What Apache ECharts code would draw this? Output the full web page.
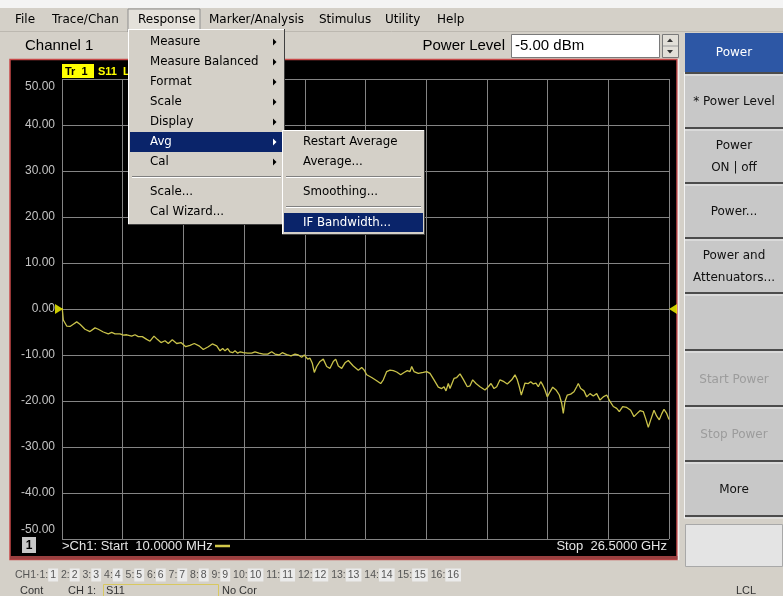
<!DOCTYPE html>
<html><head><meta charset="utf-8">
<script src="https://cdn.jsdelivr.net/npm/echarts@6/dist/echarts.min.js"></script>
<style>html,body{margin:0;padding:0;background:#d4d0c8;overflow:hidden}#c{width:783px;height:596px}</style>
</head><body><div id="c"></div>
<script>
// ---- data ----
const freqGHz = [0.01,0.057,0.205,0.349,0.493,0.642,0.786,1.004,1.222,1.441,1.585,1.803,2.021,2.170,2.314,2.532,2.676,2.825,3.043,3.187,3.331,3.506,3.698,3.842,4.016,4.161,4.322,4.497,4.641,4.815,5.008,5.195,5.400,5.588,5.776,5.981,6.169,6.387,6.562,6.754,6.898,7.016,7.116,7.234,7.334,7.452,7.553,7.670,7.784,7.915,8.107,8.282,8.426,8.600,8.788,8.980,9.155,9.299,9.474,9.618,9.810,9.998,10.172,10.316,10.465,10.578,10.727,10.827,10.928,11.015,11.120,11.264,11.408,11.556,11.700,11.844,11.949,12.063,12.211,12.355,12.499,12.717,12.936,13.084,13.198,13.302,13.520,13.739,13.913,14.027,14.175,14.319,14.464,14.612,14.787,14.931,15.075,15.193,15.267,15.367,15.555,15.773,15.922,16.066,16.241,16.428,16.577,16.677,16.764,16.865,16.939,17.114,17.232,17.376,17.520,17.695,17.812,17.930,18.074,18.249,18.467,18.611,18.729,18.860,18.978,19.122,19.296,19.440,19.633,19.777,19.877,19.964,20.052,20.139,20.213,20.357,20.462,20.576,20.693,20.794,20.899,20.986,21.086,21.187,21.305,21.423,21.567,21.711,21.816,21.885,21.959,22.060,22.208,22.352,22.470,22.540,22.645,22.789,22.907,23.051,23.195,23.343,23.487,23.631,23.780,23.924,24.068,24.216,24.330,24.478,24.653,24.827,24.971,25.089,25.233,25.377,25.499,25.596,25.701,25.845,25.963,26.076,26.181,26.282,26.399,26.5];
const s11dB = [0.15,-2.4,-3.7,-3.8,-3.3,-2.8,-3.3,-4.4,-4.9,-4.1,-4.4,-5.0,-5.4,-5.1,-5.4,-5.4,-5.7,-5.6,-5.9,-5.6,-6.0,-6.0,-6.6,-7.0,-5.9,-6.6,-7.3,-6.9,-7.5,-6.7,-7.5,-7.3,-8.2,-7.9,-7.5,-8.0,-8.8,-8.2,-7.6,-8.0,-9.1,-8.6,-9.1,-8.6,-9.3,-9.5,-9.1,-9.6,-9.3,-9.5,-9.6,-9.6,-9.3,-9.6,-9.8,-9.8,-9.3,-9.8,-10.0,-9.5,-9.9,-10.2,-9.8,-10.0,-10.5,-10.0,-10.9,-10.7,-11.8,-13.8,-12.5,-11.4,-10.9,-12.5,-12.9,-11.4,-10.9,-12.4,-12.9,-11.7,-11.2,-12.4,-13.3,-12.7,-13.3,-14.3,-14.9,-15.6,-16.2,-15.4,-13.6,-13.3,-13.4,-13.7,-14.3,-13.8,-13.4,-13.6,-12.5,-13.6,-14.0,-13.8,-13.6,-14.0,-15.4,-17.0,-17.3,-16.9,-17.8,-16.2,-17.3,-15.1,-14.9,-14.1,-15.3,-16.9,-16.7,-15.4,-16.2,-16.9,-17.6,-16.9,-16.2,-17.3,-16.9,-15.4,-15.8,-16.3,-15.4,-14.3,-15.4,-16.9,-18.7,-17.3,-16.1,-16.2,-15.8,-16.3,-16.1,-16.9,-15.8,-16.5,-17.6,-19.1,-18.0,-17.0,-17.6,-18.7,-20.5,-22.7,-20.1,-18.7,-18.5,-18.0,-16.9,-16.2,-17.3,-17.8,-19.1,-18.4,-18.9,-18.4,-19.8,-19.1,-18.7,-20.1,-21.2,-21.6,-22.3,-21.2,-21.4,-22.0,-23.4,-22.8,-22.1,-22.3,-24.1,-25.7,-24.1,-22.0,-23.3,-24.1,-22.8,-21.8,-22.7,-24.0];
const refMarkers = [[0, 0], [26.5, 0]];
const yMin = -50, yMax = 50, yStep = 10;
const xMin = 0, xMax = 26.5, xStep = 2.65;
const menuBar = ['File','Trace/Chan','Response','Marker/Analysis','Stimulus','Utility','Help'];
const responseMenu = ['Measure','Measure Balanced','Format','Scale','Display','Avg','Cal','-','Scale...','Cal Wizard...'];
const responseHasArrow = [1,1,1,1,1,1,1,0,0,0];
const avgMenu = ['Restart Average','Average...','-','Smoothing...','-','IF Bandwidth...'];
const softkeys = [['* Power Level'],['Power','ON | off'],['Power...'],['Power and','Attenuators...'],[],['Start Power'],['Stop Power'],['More']];
const softkeyEnabled = [1,1,1,1,1,0,0,1];

// ---- layout helpers ----
const g = [];
function rect(x,y,w,h,fill,stroke,z,lw){ g.push({type:'rect',z:z||0,silent:true,shape:{x:x,y:y,width:w,height:h},style:{fill:fill||null,stroke:stroke||null,lineWidth:lw||1}}); }
function line(x1,y1,x2,y2,color,lw,z){ g.push({type:'line',z:z||0,silent:true,shape:{x1:x1,y1:y1,x2:x2,y2:y2},style:{stroke:color,lineWidth:lw||1}}); }
function poly(pts,fill,z){ g.push({type:'polygon',z:z||0,silent:true,shape:{points:pts},style:{fill:fill}}); }
function text(x,y,t,o){ o=o||{}; const a=o.align||'left';
  g.push({type:'text',z:o.z||1,silent:true,x:x,y:y,style:{text:t,fill:o.fill||'#000',fontSize:o.size||12,fontFamily:o.family||'DejaVu Sans',fontWeight:o.weight||'normal',align:a,verticalAlign:'middle',textAlign:a,textVerticalAlign:'middle',rich:o.rich}}); }

// top strips
rect(0,0,783,8,'#f4f4f4',null,-10);
rect(0,8,783,23,'#d4d0c8',null,-10);
line(0,31.5,783,31.5,'#bcb8b0',1,-9);
// menu bar
const menuX = [15,52,138,209,319,385,437];
rect(128,9,72,23,'#e4e1da','#8e8e8e',-8);
menuBar.forEach((m,i)=>text(menuX[i],20,m,{size:12}));
// row 2
text(25,46,'Channel 1',{size:15,family:'Liberation Sans'});
text(505,46,'Power Level',{size:15,family:'Liberation Sans',align:'right'});
rect(511.5,34.5,148,23,'#ffffff','#7a7a7a',0);
text(515,46,'-5.00 dBm',{size:15,family:'Liberation Sans'});
rect(662.5,34.5,16,23,'#e2dfd8','#7a7a7a',0);
line(663,46,678,46,'#9a9a9a',1,1);
poly([[667,42],[673,42],[670,38.5]],'#333',2);
poly([[667,50],[673,50],[670,53.5]],'#333',2);

// chart frame
rect(10,59.5,667,500,'#000000','#c84848',-5,1.5);
rect(10,556,668,3.5,'#9a4040',null,-4);
line(678.5,59,678.5,560,'#f0eeea',1.5,-4);

// right soft panel
rect(685,33,98,39,'#2d57a5',null,0);
text(734,53,'Power',{align:'center',fill:'#ffffff',size:12});
rect(684,72,99,446,'#c8c8c8',null,-2);
const sepY = [73,128,183,238,293,350,406,461,516];
sepY.forEach(y=>{ line(684,y,783,y,'#4c4c4c',2,0); line(684,y+2,783,y+2,'#ececec',1,0); });
line(684.5,72,684.5,518,'#f2f2f2',1,0);
softkeys.forEach((k,i)=>{
  const top = sepY[i], bot = sepY[i+1], cy = (top+bot)/2+1.5;
  const col = softkeyEnabled[i] ? '#111' : '#9c9c9c';
  if (k.length===1) text(734,cy,k[0],{align:'center',fill:col,size:12});
  else if (k.length===2){ text(734,cy-11,k[0],{align:'center',fill:col,size:12}); text(734,cy+11,k[1],{align:'center',fill:col,size:12}); }
});
rect(685.5,524.5,97,42,'#e4e4e4','#a8a8a8',0);

// inside chart texts
rect(62,64,32,14,'#ffff00',null,2);
text(65,71.5,'Tr  1',{size:11,weight:'bold',family:'Liberation Sans',z:3});
text(98,71.5,'S11  LogM 10.00dB/  0.00dB',{size:11,weight:'bold',family:'Liberation Sans',fill:'#ffff00',z:3});
rect(22,537,14,16,'#c8c8c8',null,2);
text(29,545.5,'1',{align:'center',weight:'bold',size:12,family:'Liberation Sans',z:3});
text(62,546,'>Ch1: Start  10.0000 MHz',{fill:'#e4e4e4',size:13,family:'Liberation Sans',z:3});
line(215,546,230,546,'#d2c84a',2.5,3);
text(667,546,'Stop  26.5000 GHz',{align:'right',fill:'#e4e4e4',size:13,family:'Liberation Sans',z:3});

// bottom status rows
let chText = 'CH1·1:';
const rich = {b:{backgroundColor:'#ebebeb',padding:[1,2],fontSize:10.5,fontFamily:'Liberation Sans',fill:'#555',color:'#555'}};
for (let n=1;n<=16;n++){ chText += (n===1?'':' '+n+':') + '{b|'+n+'}'; }
text(15,575,chText,{size:10.5,family:'Liberation Sans',fill:'#555',rich:rich});
rect(103.5,584.5,115,14,null,'#d8c860',0);
text(20,591,'Cont',{size:11,family:'Liberation Sans',fill:'#333'});
text(68,591,'CH 1:',{size:11,family:'Liberation Sans',fill:'#333'});
text(106,591,'S11',{size:11,family:'Liberation Sans',fill:'#333'});
text(222,591,'No Cor',{size:11,family:'Liberation Sans',fill:'#333'});
text(736,591,'LCL',{size:11,family:'Liberation Sans',fill:'#333'});

// Response dropdown menu
const MZ = 50, MF = 11.8;
rect(128,29,157,196,'#d4d0c8',null,MZ);
line(128.5,29,128.5,225,'#ffffff',1,MZ+1); line(128,29.5,285,29.5,'#ffffff',1,MZ+1);
line(284.5,29,284.5,225,'#404040',1,MZ+1); line(128,224.5,285,224.5,'#404040',1,MZ+1);
const respY = [42,62,82,102,122,142,162,177,192,212];
responseMenu.forEach((m,i)=>{
  const y = respY[i];
  if (m==='-'){ line(132,y-0.5,281,y-0.5,'#808080',1,MZ+2); line(132,y+0.5,281,y+0.5,'#ffffff',1,MZ+2); return; }
  const hi = (m==='Avg');
  if (hi) rect(130,132,152,20,'#0a246a',null,MZ+1);
  text(150,y,m,{size:MF,fill:hi?'#fff':'#000',z:MZ+3});
  if (responseHasArrow[i]) poly([[273,y-3.5],[276.5,y],[273,y+3.5]],hi?'#fff':'#000',MZ+3);
});
// Avg submenu
const SZ = 60;
rect(282,130,143,105,'#d4d0c8',null,SZ);
line(282.5,130,282.5,235,'#ffffff',1,SZ+1); line(282,130.5,425,130.5,'#ffffff',1,SZ+1);
line(424.5,130,424.5,235,'#404040',1,SZ+1); line(282,234.5,425,234.5,'#404040',1,SZ+1);
const avgY = [142,162,177,192,207,222.5];
avgMenu.forEach((m,i)=>{
  const y = avgY[i];
  if (m==='-'){ line(286,y-0.5,421,y-0.5,'#808080',1,SZ+2); line(286,y+0.5,421,y+0.5,'#ffffff',1,SZ+2); return; }
  const hi = (m==='IF Bandwidth...');
  if (hi) rect(284,213,139,19,'#0a246a',null,SZ+1);
  text(303,y,m,{size:MF,fill:hi?'#fff':'#000',z:SZ+3});
});

const chart = echarts.init(document.getElementById('c'), null, {renderer:'canvas'});
const lblStyle = {color:'#c4c4c4',fontSize:12,fontFamily:'Liberation Sans'};
chart.setOption({
  animation:false,
  backgroundColor:'#d4d0c8',
  grid:{left:62,right:114,top:79,bottom:57,containLabel:false},
  xAxis:{type:'value',min:xMin,max:xMax,interval:xStep,
    axisLine:{show:false},axisTick:{show:false},axisLabel:{show:false},
    splitLine:{show:true,lineStyle:{color:'#848484',width:1}}},
  yAxis:{type:'value',min:yMin,max:yMax,interval:yStep,
    axisLine:{show:false},axisTick:{show:false},
    axisLabel:{margin:7,color:'#c4c4c4',fontSize:12,fontFamily:'Liberation Sans',
      formatter:function(v){ const s=v.toFixed(2); if(v===yMax) return '{t|'+s+'}'; if(v===yMin) return '{b|'+s+'}'; return s; },
      rich:{t:Object.assign({padding:[16,0,0,0]},lblStyle), b:Object.assign({padding:[0,0,18,0]},lblStyle)}},
    splitLine:{show:true,lineStyle:{color:'#848484',width:1}}},
  graphic:{elements:g},
  series:[
    {type:'line',data:freqGHz.map((f,i)=>[f,s11dB[i]]),showSymbol:false,symbol:'none',
      lineStyle:{color:'#c9c24a',width:1.3},z:5,clip:false},
    {type:'scatter',clip:false,z:6,silent:true,
      data:[
        {value:refMarkers[0],symbolRotate:-90,symbolOffset:[-3,0]},
        {value:refMarkers[1],symbolRotate:90,symbolOffset:[4,0]}
      ],
      symbol:'triangle',symbolSize:[10,8],itemStyle:{color:'#ffff00'}}
  ]
});
</script>
</body></html>
